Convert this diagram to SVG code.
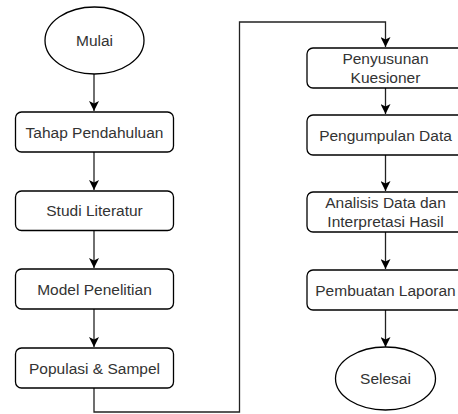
<svg xmlns="http://www.w3.org/2000/svg" width="458" height="414" viewBox="0 0 458 414">
<defs>
<marker id="arr" markerWidth="10" markerHeight="10" viewBox="0 0 10 10" refX="10" refY="5" orient="auto" markerUnits="userSpaceOnUse">
<path d="M0,0 L10,5 L0,10 L2.5,5 Z" fill="#000"/>
</marker>
<style>
.box{fill:#fff;stroke:#000;stroke-width:1.3}
.t{font-family:"Liberation Sans",Arial,sans-serif;font-size:15.5px;fill:#333;text-anchor:middle}
.c{fill:none;stroke:#222;stroke-width:1.3}
</style>
</defs>
<rect width="458" height="414" fill="#fff"/>
<g id="connectors">
<path class="c" d="M94,74 V111" marker-end="url(#arr)"/>
<path class="c" d="M94,152 V190" marker-end="url(#arr)"/>
<path class="c" d="M94,230 V268" marker-end="url(#arr)"/>
<path class="c" d="M94,309 V347" marker-end="url(#arr)"/>
<path class="c" d="M94,388 V412 H239.5 V22 H385.5 V47" marker-end="url(#arr)"/>
<path class="c" d="M385.5,88 V114" marker-end="url(#arr)"/>
<path class="c" d="M385.5,155 V191" marker-end="url(#arr)"/>
<path class="c" d="M385.5,232 V269" marker-end="url(#arr)"/>
<path class="c" d="M385.5,310 V347" marker-end="url(#arr)"/>
</g>
<g id="mulai"><ellipse class="box" cx="94.5" cy="40.5" rx="49.5" ry="33.5"/><text class="t" x="94.5" y="46">Mulai</text></g>
<g id="tahap"><rect class="box" x="15.5" y="112" width="158" height="40" rx="6"/><text class="t" x="94.5" y="137.5">Tahap Pendahuluan</text></g>
<g id="studi"><rect class="box" x="15.5" y="191" width="158" height="39.5" rx="6"/><text class="t" x="94.5" y="216">Studi Literatur</text></g>
<g id="model"><rect class="box" x="15.5" y="269" width="158" height="40" rx="6"/><text class="t" x="94.5" y="294.5">Model Penelitian</text></g>
<g id="populasi"><rect class="box" x="15.5" y="348" width="158" height="40" rx="6"/><text class="t" x="94.5" y="373.5">Populasi &amp; Sampel</text></g>
<g id="penyusunan"><rect class="box" x="307" y="48" width="158" height="40" rx="6"/><text class="t" x="385.5" y="64">Penyusunan</text><text class="t" x="385.5" y="82.5">Kuesioner</text></g>
<g id="pengumpulan"><rect class="box" x="307" y="115" width="158" height="40" rx="6"/><text class="t" x="385.5" y="140.5">Pengumpulan Data</text></g>
<g id="analisis"><rect class="box" x="307" y="192" width="158" height="40" rx="6"/><text class="t" x="385.5" y="208">Analisis Data dan</text><text class="t" x="385.5" y="226.5">Interpretasi Hasil</text></g>
<g id="pembuatan"><rect class="box" x="307" y="270" width="158" height="40" rx="6"/><text class="t" x="385.5" y="295.5">Pembuatan Laporan</text></g>
<g id="selesai"><ellipse class="box" cx="385.5" cy="378.5" rx="50" ry="31.5"/><text class="t" x="385.5" y="384">Selesai</text></g>
</svg>
